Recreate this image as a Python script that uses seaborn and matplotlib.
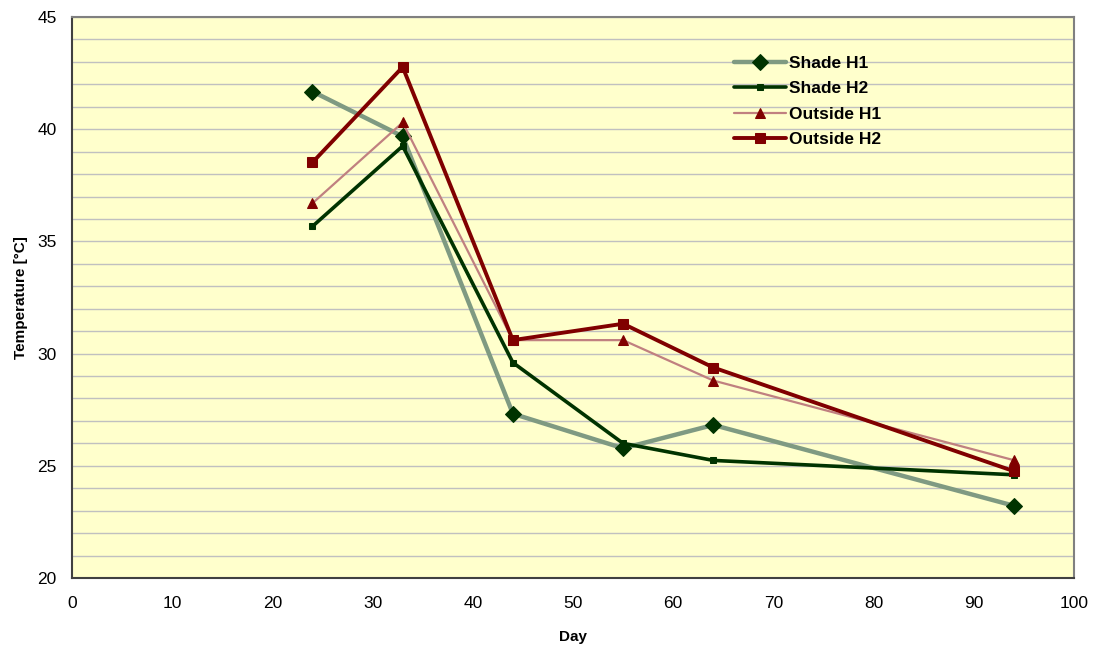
import matplotlib
matplotlib.use("Agg")
import matplotlib.pyplot as plt
import seaborn as sns
import numpy as np
import pandas as pd
from matplotlib.ticker import MultipleLocator

days = [24, 33, 44, 55, 64, 94]
shade_h1 = [41.68, 39.68, 27.32, 25.78, 26.82, 23.22]
shade_h2 = [35.67, 39.25, 29.6, 26.0, 25.24, 24.6]
outside_h1 = [36.7, 40.3, 30.6, 30.6, 28.8, 25.25]
outside_h2 = [38.52, 42.77, 30.6, 31.33, 29.38, 24.76]
series_names = ["Shade H1", "Shade H2", "Outside H1", "Outside H2"]

sns.set_theme(style="white")
plt.rcParams['font.family'] = ['Liberation Sans', 'DejaVu Sans']
plt.rcParams['text.color'] = 'black'
plt.rcParams['axes.labelcolor'] = 'black'
plt.rcParams['xtick.color'] = 'black'
plt.rcParams['ytick.color'] = 'black'

fig = plt.figure(figsize=(10.96, 6.49), dpi=100)
ax = fig.add_axes([72/1096, 1-578/649, (1074-72)/1096, (578-17)/649])
ax.set_facecolor("#FFFFCC")

styles = {
    "Shade H1": dict(color="#7F9A82", lw=3.2, marker="D", ms=8.5, mfc="#003300", mec="#003300"),
    "Shade H2": dict(color="#003300", lw=2.6, marker="s", ms=5, mfc="#003300", mec="#003300"),
    "Outside H1": dict(color="#C08080", lw=1.6, marker="^", ms=6.5, mfc="#800000", mec="#800000"),
    "Outside H2": dict(color="#800000", lw=2.8, marker="s", ms=6.5, mfc="#800000", mec="#800000"),
}
data = {"Shade H1": shade_h1, "Shade H2": shade_h2, "Outside H1": outside_h1, "Outside H2": outside_h2}

for name in series_names:
    st = styles[name]
    sns.lineplot(x=days, y=data[name], ax=ax, color=st["color"], linewidth=st["lw"],
                 marker=st["marker"], markersize=st["ms"], markerfacecolor=st["mfc"],
                 markeredgecolor=st["mec"], label=name, sort=False)

ax.set_xlim(0, 100)
ax.set_ylim(20, 45)
ax.xaxis.set_major_locator(MultipleLocator(10))
ax.yaxis.set_major_locator(MultipleLocator(5))
ax.yaxis.set_minor_locator(MultipleLocator(1))
ax.grid(False)
ax.grid(axis="y", which="both", color="#C0C0C0", linewidth=1.0)
ax.set_axisbelow(True)

for s in ["left", "bottom"]:
    ax.spines[s].set_color("#404040")
    ax.spines[s].set_linewidth(1.5)
for s in ["top", "right"]:
    ax.spines[s].set_color("#808080")
    ax.spines[s].set_linewidth(1.5)

ax.tick_params(axis="both", which="major", direction="out", length=5, width=1.2,
               color="#404040", labelsize=12.5, labelcolor="#000000")
ax.tick_params(axis="y", which="minor", length=0)
ax.tick_params(axis="x", pad=8)
ax.tick_params(axis="y", pad=6)

ax.set_xlabel("Day", fontsize=11, fontweight="bold", labelpad=14)
ax.set_ylabel("Temperature [°C]", fontsize=11, fontweight="bold", labelpad=7)

leg = ax.legend(loc="upper left", bbox_to_anchor=(0.645, 0.959), frameon=False,
                prop={"weight": "bold", "size": 12.5}, handlelength=3.0, handletextpad=0.2,
                labelspacing=0.6)

fig.savefig("out.png", dpi=100)
